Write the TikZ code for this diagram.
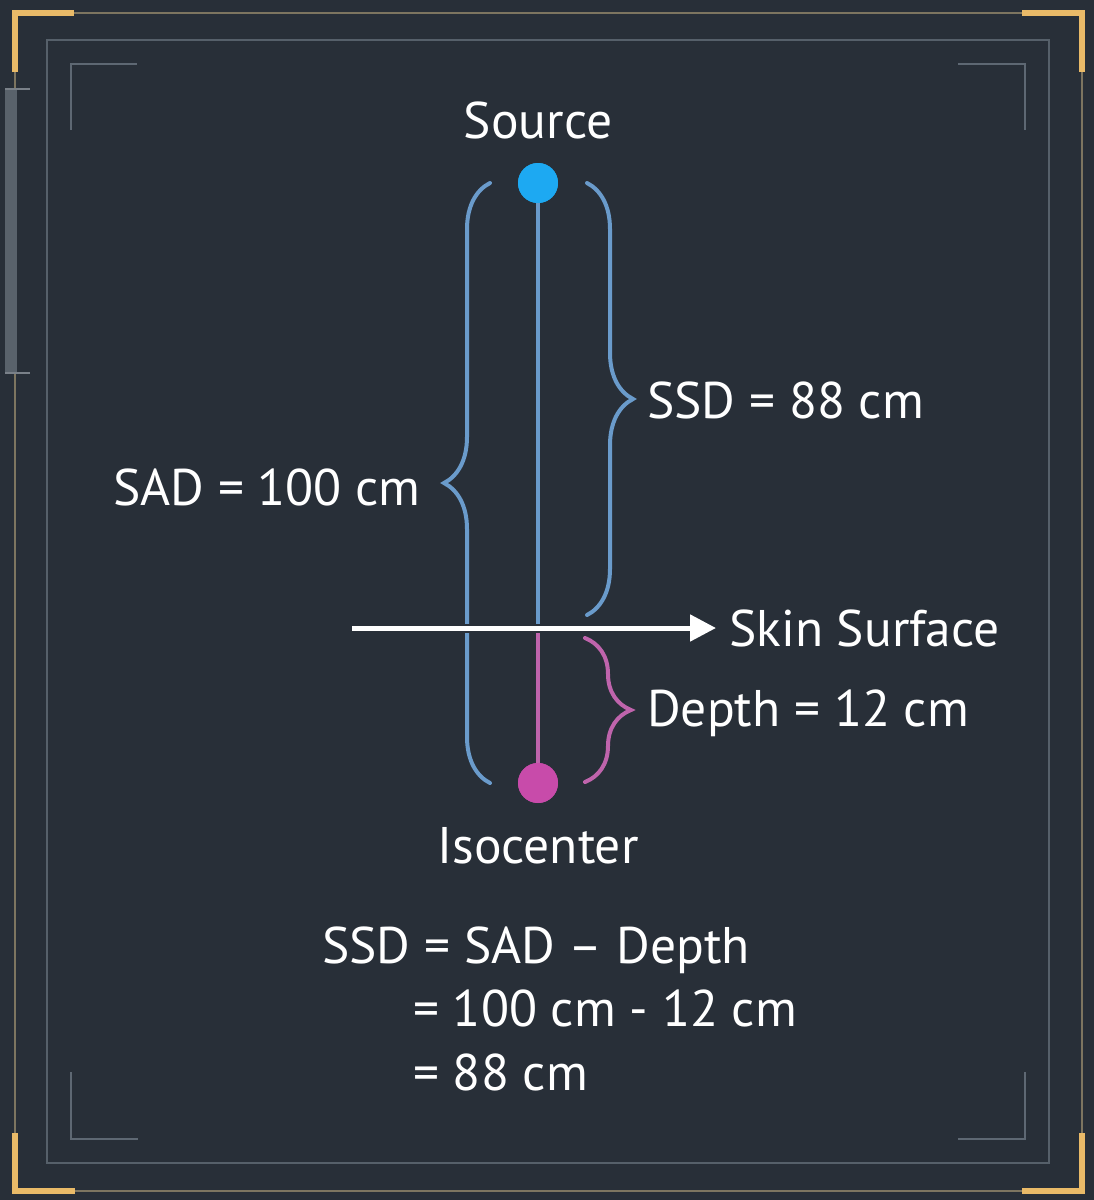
\documentclass[tikz,border=0pt]{standalone}
\usepackage{fontspec}
\setmainfont{PT Sans}
\usetikzlibrary{arrows.meta,decorations.pathreplacing}
\definecolor{bgslate}{HTML}{282F38}
\definecolor{frameline}{HTML}{7D7560}
\definecolor{goldcorner}{HTML}{E9BA68}
\definecolor{innerline}{HTML}{56606A}
\definecolor{markgray}{HTML}{5E6873}
\definecolor{sidebar}{HTML}{59626B}
\definecolor{beamblue}{HTML}{6A9BCB}
\definecolor{sourceblue}{HTML}{1DA9F2}
\definecolor{depthpink}{HTML}{BF64AC}
\definecolor{isopink}{HTML}{C84BAA}

\begin{document}
\begin{tikzpicture}[x=1pt, y=-1pt,
	txt/.style={font=\fontsize{51.5}{60}\selectfont, text=white, inner sep=0pt, text height=36pt, text depth=0pt},
	dot/.style={circle, inner sep=0pt, minimum size=40pt},
	goldmark/.style={line width=6pt, color=goldcorner},
	cornermark/.style={line width=2.5pt, color=markgray},
	bluebrace/.style={decorate, decoration={brace, amplitude=46pt}, line width=4pt, color=beamblue, line cap=round},
	pinkbrace/.style={bluebrace, color=depthpink}]
			%%%%% START %%%%%
			
			\useasboundingbox (0,0) rectangle (1094,1200);
			\fill[bgslate] (0,0) rectangle (1094,1200);
			
			% frame
			\draw[line width=2pt, color=frameline] (15,13) rectangle (1082,1191);
			\draw[line width=2pt, color=innerline] (47,40) rectangle (1049,1163);
			
			\draw[goldmark] (15,72) -- (15,13) -- (74,13);
			\draw[goldmark] (1022,13) -- (1082,13) -- (1082,72);
			\draw[goldmark] (15,1133) -- (15,1191) -- (75,1191);
			\draw[goldmark] (1022,1191) -- (1082,1191) -- (1082,1133);
			
			\draw[cornermark] (71,130) -- (71,64) -- (137,64);
			\draw[cornermark] (958,64) -- (1025,64) -- (1025,130);
			\draw[cornermark] (71,1072) -- (71,1139) -- (138,1139);
			\draw[cornermark] (958,1139) -- (1025,1139) -- (1025,1072);
			
			\fill[sidebar] (5,88) rectangle (17,373);
			\draw[line width=2pt, color=sidebar!80!white] (5,89) -- (30,89);
			\draw[line width=2pt, color=sidebar!80!white] (5,373) -- (30,373);
			
			% braces
			\draw[bluebrace] (490,783) -- (490,183);
			\draw[bluebrace] (587,183) -- (587,615);
			\draw[pinkbrace] (585,638) -- (585,782);
			
			% beam
			\node[dot, fill=sourceblue] (src) at (538,183) {};
			\node[dot, fill=isopink] (iso) at (538,783) {};
			\coordinate (skin) at (538,628);
			\coordinate (skinL) at (352,628);
			\coordinate (skinR) at (716,628);
			
			\draw[line width=4.5pt, color=beamblue] (src) -- (skin);
			\draw[line width=4.5pt, color=depthpink] (skin) -- (iso);
			
			\draw[line width=9pt, color=bgslate] (skinL) -- (690,628);
			\draw[line width=5pt, color=white, -{Triangle[length=26pt, width=26pt]}] (skinL) -- (skinR);
			
			\node[dot, fill=sourceblue] at (src) {};
			\node[dot, fill=isopink] at (iso) {};
			
			% labels
			\node[txt] (srcname) at (538,120) {Source};
			\node[txt] (isoname) at (538,845) {Isocenter};
			\node[txt, anchor=east] (sad) at (421,487) {SAD = 100 cm};
			\node[txt, anchor=west] (ssd) at (647,400) {SSD = 88 cm};
			\node[txt, anchor=west] (skinname) at (729,628) {Skin Surface};
			\node[txt, anchor=west] (depth) at (647,708) {Depth = 12 cm};
			
			\node[txt, anchor=west] (eqone) at (322,945) {SSD = SAD – Depth};
			\node[txt, anchor=west] (eqtwo) at (413,1008) {= 100 cm - 12 cm};
			\node[txt, anchor=west] (eqthree) at (413,1072) {= 88 cm};
			
			%%%%% END %%%%%
		\end{tikzpicture}
\end{document}
